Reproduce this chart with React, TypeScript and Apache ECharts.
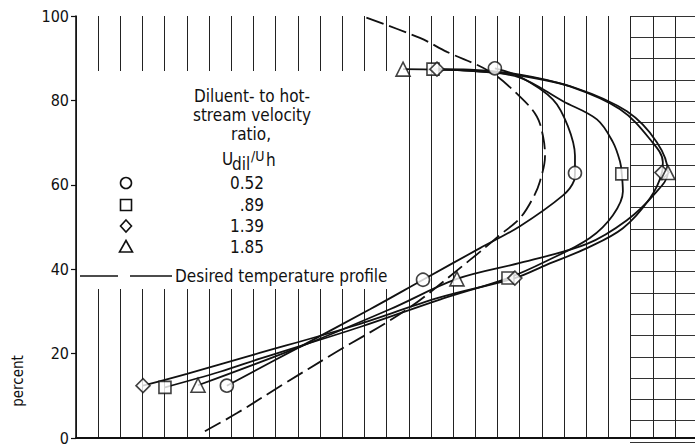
import React, { useEffect, useRef } from "react";
import * as echarts from "echarts";

const FONT = '"DejaVu Sans Condensed", "Liberation Sans Narrow", "Noto Sans", sans-serif';

// y axis tick values (percent)
const yTickMin = 0;
const yTickMax = 100;
const yTickStep = 20;

// legend values: diluent- to hot-stream velocity ratio
const ratioLabels = ["0.52", ".89", "1.39", "1.85"];

// measured points (x in grid units, y in percent)
const circleMarkers = [[6.8, 12.4], [15.64, 37.5], [22.49, 62.8], [18.88, 87.6]];
const squareMarkers = [[4.01, 12.0], [19.47, 37.9], [24.6, 62.6], [16.09, 87.4]];
const diamondMarkers = [[3.02, 12.4], [19.78, 37.9], [26.41, 62.9], [16.27, 87.4]];
const triangleMarkers = [[5.5, 12.5], [17.17, 37.7], [26.68, 62.9], [14.74, 87.4]];

// faired curves through the data
const circleCurve = [
  [6.8, 12.4], [10.09, 21.6], [13.25, 30.5], [15.64, 37.5], [18.21, 45.0], [20.01, 50.2],
  [21.95, 57.5], [22.45, 61.0], [22.49, 62.8], [22.49, 66.9], [22.17, 73.9], [21.5, 80.2],
  [20.01, 85.6], [18.88, 87.6],
];
const squareCurve = [
  [4.01, 12.0], [6.49, 15.7], [8.29, 18.8], [12.8, 26.3], [16.4, 32.8], [19.47, 37.9],
  [21.23, 42.0], [23.16, 47.4], [24.2, 52.8], [24.65, 58.4], [24.6, 62.6], [24.52, 65.5],
  [24.2, 70.1], [23.48, 75.5], [21.95, 79.8], [20.01, 85.4], [18.21, 86.8], [16.09, 87.4],
];
const diamondCurve = [
  [3.02, 12.4], [5.0, 15.2], [7.98, 19.7], [12.35, 26.3], [16.4, 33.3], [19.78, 37.9],
  [21.23, 41.1], [23.03, 45.0], [24.65, 49.7], [25.87, 56.8], [26.41, 62.9], [26.45, 65.4],
  [25.87, 70.8], [24.52, 77.9], [22.26, 83.3], [20.01, 86.1], [17.76, 87.3], [16.27, 87.4],
];
const triangleCurve = [
  [5.5, 12.5], [10.09, 21.6], [14.15, 30.5], [17.17, 37.7], [20.01, 41.5], [23.03, 46.0],
  [24.83, 51.6], [26.09, 57.9], [26.68, 62.9], [26.18, 70.1], [24.83, 77.4], [22.49, 83.0],
  [20.01, 85.9], [17.76, 87.0], [14.74, 87.4],
];
const desiredProfile = [
  [5.81, 1.6], [7.26, 5.9], [9.33, 12.7], [11.58, 19.9], [14.92, 30.5], [17.76, 42.2],
  [19.11, 48.1], [20.01, 52.1], [20.59, 56.8], [20.91, 60.8], [21.14, 66.9], [21.05, 71.5],
  [20.77, 76.2], [20.01, 80.9], [18.66, 86.8], [16.72, 91.5], [15.5, 94.8], [12.89, 100],
];

const xMin = 0;
const xMax = 27.9;

export default function App() {
  const ref = useRef<HTMLDivElement>(null);

  useEffect(() => {
    if (!ref.current) return;
    const chart = echarts.init(ref.current, undefined, { renderer: "svg" });

    const lineStyle = { color: "#111", width: 1.8 };
    const curve = (data: number[][], dashed = false) => ({
      type: "line",
      data,
      smooth: 0.35,
      showSymbol: false,
      symbol: "none",
      z: 3,
      lineStyle: dashed ? { ...lineStyle, type: [18, 6] } : lineStyle,
      silent: true,
    });
    const markers = (data: number[][], symbol: string, size: number) => ({
      type: "scatter",
      data,
      symbol,
      symbolSize: size,
      z: 4,
      itemStyle: { color: "#fff", borderColor: "#111", borderWidth: 1.6 },
      silent: true,
    });

    const txt = (text: string, x: number, y: number, extra: any = {}) => ({
      type: "text",
      x,
      y,
      z: 6,
      style: {
        text,
        fill: "#111",
        font: `17px ${FONT}`,
        textAlign: "center",
        textVerticalAlign: "middle",
        ...extra,
      },
    });

    const symStyle = { fill: "#fff", stroke: "#111", lineWidth: 1.6 };
    const symX = 126;
    const rowY = [183, 205, 226, 247];

    chart.setOption({
      animation: false,
      grid: [
        { left: 76, right: 0, top: 16, bottom: 4, containLabel: false },
        { left: 630, right: 0, top: 16, bottom: 4, containLabel: false },
      ],
      xAxis: [
        {
          type: "value",
          gridIndex: 0,
          min: xMin,
          max: xMax,
          interval: 1,
          axisLine: { show: true, onZero: false, lineStyle: { color: "#111", width: 2 } },
          axisTick: { show: false },
          axisLabel: { show: false },
          splitLine: { show: true, lineStyle: { color: "#222", width: 1 } },
        },
        {
          type: "value",
          gridIndex: 1,
          min: 0,
          max: 1,
          show: false,
        },
      ],
      yAxis: [
        {
          type: "value",
          gridIndex: 0,
          min: yTickMin,
          max: yTickMax,
          interval: yTickStep,
          axisLine: { show: true, onZero: false, lineStyle: { color: "#111", width: 1.6 } },
          axisTick: { show: true, inside: false, length: 5, lineStyle: { color: "#111", width: 1.2 } },
          axisLabel: {
            show: true,
            margin: 7,
            color: "#111",
            fontFamily: FONT,
            fontSize: 16,
          },
          splitLine: { show: false },
        },
        {
          type: "value",
          gridIndex: 1,
          min: 0,
          max: 100,
          interval: 5,
          axisLine: { show: false },
          axisTick: { show: false },
          axisLabel: { show: false },
          splitLine: { show: true, lineStyle: { color: "#333", width: 1 } },
        },
      ],
      series: [
        curve(desiredProfile, true),
        curve(circleCurve),
        curve(squareCurve),
        curve(diamondCurve),
        curve(triangleCurve),
        markers(circleMarkers, "circle", 13),
        markers(squareMarkers, "rect", 12),
        markers(diamondMarkers, "diamond", 14),
        markers(triangleMarkers, "triangle", 14),
      ],
      graphic: [
        { type: "rect", z: 1, shape: { x: 78, y: 71, width: 321, height: 218 }, style: { fill: "#fff" } },
        txt("Diluent- to hot-", 252, 96),
        txt("stream velocity", 252, 115),
        txt("ratio,", 251, 134),
        txt("U", 222, 159, { textAlign: "left" }),
        txt("dil", 232, 164, { textAlign: "left" }),
        txt("/U", 251, 156, { textAlign: "left", font: `14px ${FONT}` }),
        txt("h", 266, 160, { textAlign: "left" }),
        { type: "circle", z: 6, shape: { cx: symX, cy: rowY[0], r: 5.5 }, style: symStyle },
        { type: "rect", z: 6, shape: { x: symX - 5.5, y: rowY[1] - 5.5, width: 11, height: 11 }, style: symStyle },
        {
          type: "polygon",
          z: 6,
          shape: { points: [[symX, rowY[2] - 6], [symX + 5.5, rowY[2]], [symX, rowY[2] + 6], [symX - 5.5, rowY[2]]] },
          style: symStyle,
        },
        {
          type: "polygon",
          z: 6,
          shape: { points: [[symX, rowY[3] - 6.5], [symX + 6.5, rowY[3] + 5], [symX - 6.5, rowY[3] + 5]] },
          style: symStyle,
        },
        ...ratioLabels.map((t, i) => txt(t, 264, rowY[i], { textAlign: "right" })),
        { type: "line", z: 6, shape: { x1: 80, y1: 276, x2: 118, y2: 276 }, style: { stroke: "#111", lineWidth: 1.6 } },
        { type: "line", z: 6, shape: { x1: 130, y1: 276, x2: 172, y2: 276 }, style: { stroke: "#111", lineWidth: 1.6 } },
        txt("Desired temperature profile", 175, 276, { textAlign: "left" }),
        {
          type: "text",
          x: 18,
          y: 381,
          rotation: Math.PI / 2,
          z: 6,
          style: {
            text: "percent",
            fill: "#111",
            font: `15px ${FONT}`,
            textAlign: "center",
            textVerticalAlign: "middle",
          },
        },
      ],
    });

    return () => chart.dispose();
  }, []);

  return (
    <div
      ref={ref}
      style={{ position: "fixed", left: 0, top: 0, width: 695, height: 446, background: "#fff" }}
    />
  );
}
